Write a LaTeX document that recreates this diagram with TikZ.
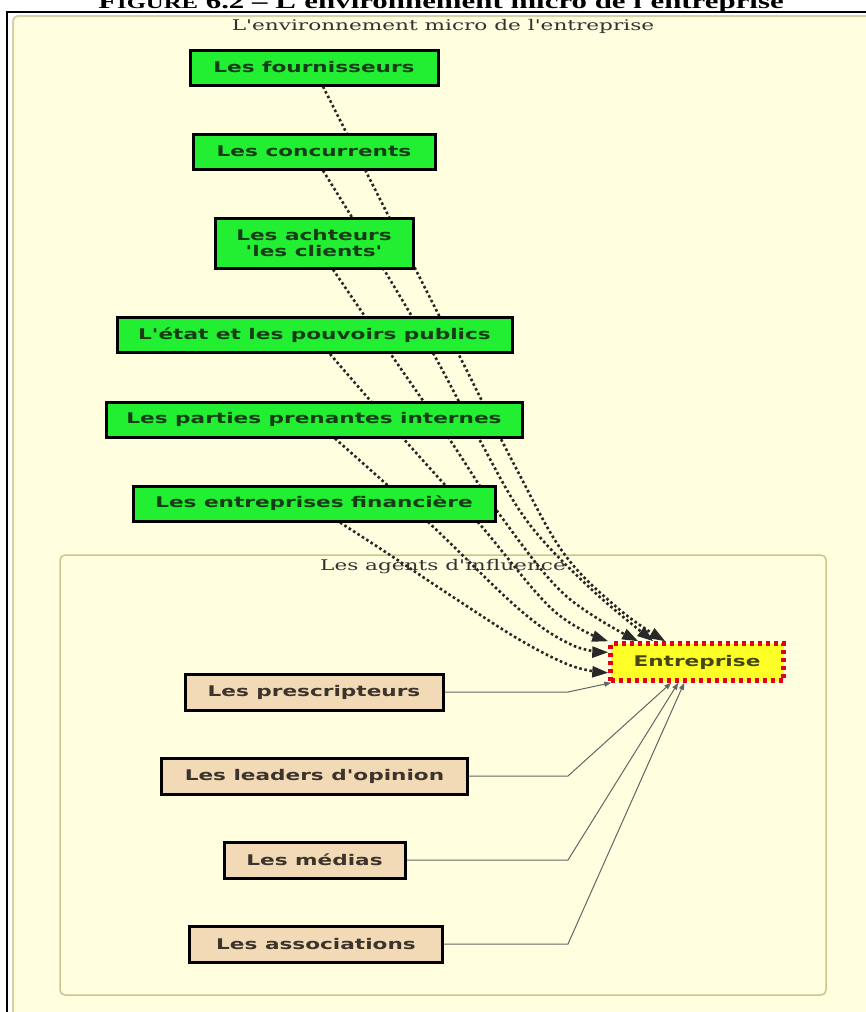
\documentclass[tikz,border=0pt]{standalone}
\usepackage{fontspec}
\usetikzlibrary{arrows.meta,calc}
\newfontfamily\boxfont{DejaVu Sans}[FakeStretch=1.47,Ligatures=TeXOff]
\newfontfamily\graphserif{DejaVu Serif}[FakeStretch=1.47,Ligatures=TeXOff]
\newfontfamily\capfont{Liberation Serif}[FakeStretch=1.47,Ligatures=TeXOff]
\definecolor{bgyellow}{RGB}{255,255,224}
\definecolor{clusterA}{RGB}{214,210,168}
\definecolor{clusterB}{RGB}{200,200,140}
\definecolor{grn}{RGB}{34,238,50}
\definecolor{grntext}{RGB}{22,60,22}
\definecolor{tanfill}{RGB}{242,218,182}
\definecolor{tantext}{RGB}{60,52,44}
\definecolor{entfill}{RGB}{255,255,40}
\definecolor{entred}{RGB}{228,0,20}
\definecolor{enttext}{RGB}{70,70,20}
\definecolor{dotc}{RGB}{40,40,40}
\definecolor{solc}{RGB}{100,100,100}
\definecolor{serifc}{RGB}{50,50,50}
\pgfdeclarelayer{bg}
\pgfdeclarelayer{edges}
\pgfsetlayers{bg,edges,main}
\tikzset{
  boxtext/.style={font=\boxfont\bfseries\fontsize{14.7}{15.5}\selectfont},
  gbox/.style={boxtext, draw=black, line width=3, fill=grn, text=grntext,
    inner sep=0pt, minimum height=35, align=center},
  tbox/.style={boxtext, draw=black, line width=3, fill=tanfill, text=tantext,
    inner sep=0pt, minimum height=36},
  entbox/.style={boxtext, draw=entred, line width=4.5, dash pattern=on 4pt off 4pt,
    fill=entfill, text=enttext, minimum width=173, minimum height=37, inner sep=0pt},
  dotedge/.style={draw=dotc, line width=2.6, dash pattern=on 2.6pt off 2.6pt,
    -{Triangle[length=16pt,width=11pt]}},
  soledge/.style={draw=solc, line width=1, -{Triangle[length=7pt,width=5pt]}},
  graphlabel/.style={text=serifc, font=\graphserif\fontsize{14.7}{17}\selectfont, inner sep=0pt, anchor=base},
}
\begin{document}
\begin{tikzpicture}[x=1pt,y=-1pt]
\useasboundingbox (0,0) rectangle (865,1012);
\clip (0,0) rectangle (865,1012);
\begin{pgfonlayer}{bg}
  \fill[white] (0,0) rectangle (865,1012);
  \node[font=\capfont\bfseries\fontsize{21}{24}\selectfont, anchor=base, inner sep=0pt] (figtitle) at (441,8)
    {F{\fontsize{16.8}{20}\selectfont IGURE} 6.2 – L'environnement micro de l'entreprise};
  \draw[line width=1.5] (7,1030) -- (7,12) -- (890,12);
  \draw[draw=clusterA, line width=2, fill=bgyellow, rounded corners=5] (13,16) rectangle (900,1040);
  \draw[draw=clusterB, line width=1.5, rounded corners=5] (60,555) rectangle (826,995);
  \node[graphlabel] (outerlabel) at (443,30) {L'environnement micro de l'entreprise};
  \node[graphlabel] (innerlabel) at (443,570) {Les agents d'influence};
\end{pgfonlayer}

\node[gbox, minimum width=248] (four) at (314,67.5) {Les fournisseurs};
\node[gbox, minimum width=242] (conc) at (314,151.5) {Les concurrents};
\node[gbox, minimum width=198, minimum height=50] (ach) at (314,243) {Les achteurs\\'les clients'};
\node[gbox, minimum width=395] (etat) at (314.5,335) {L'état et les pouvoirs publics};
\node[gbox, minimum width=416] (part) at (314,419.5) {Les parties prenantes internes};
\node[gbox, minimum width=362] (fin) at (314,503.5) {Les entreprises financière};

\node[tbox, minimum width=258] (pres) at (314,692) {Les prescripteurs};
\node[tbox, minimum width=306] (lead) at (314.5,776) {Les leaders d'opinion};
\node[tbox, minimum width=181] (med) at (314.5,860) {Les médias};
\node[tbox, minimum width=253] (asso) at (316,944) {Les associations};

\node[entbox] (ent) at (697,662) {Entreprise};
\coordinate (bend) at (568,0);

\begin{pgfonlayer}{edges}
  \draw[dotedge] plot[smooth, tension=0.6] coordinates {([xshift=9]four.south) (389,217) (458,353) (517,470) (565,555) (620,610) ([xshift=57]ent.north west)};
  \draw[dotedge] plot[smooth, tension=0.6] coordinates {([xshift=9]conc.south) (383,268) (433,353) (478,437) (527,521) (590,588) ([xshift=45]ent.north west)};
  \draw[dotedge] plot[smooth, tension=0.6] coordinates {([xshift=19]ach.south) (390,353) (448,437) (500,515) (565,595) ([xshift=30]ent.north west)};
  \draw[dotedge] plot[smooth, tension=0.6] coordinates {([xshift=15.5]etat.south) (402,437) (477,521) (553,610) (ent.north west)};
  \draw[dotedge] plot[smooth, tension=0.6] coordinates {([xshift=21]part.south) (427,521) (520,610) (572,645) ([yshift=-11]ent.north west)};
  \draw[dotedge] plot[smooth, tension=0.6] coordinates {([xshift=26]fin.south) (387,553) (453,597) (520,640) (572,666) ([yshift=10]ent.south west)};

  \draw[soledge] (pres.east) -- (pres.east -| bend) -- ([xshift=3]ent.south west);
  \draw[soledge] (lead.east) -- (lead.east -| bend) -- ([xshift=63]ent.south west);
  \draw[soledge] (med.east) -- (med.east -| bend) -- ([xshift=70]ent.south west);
  \draw[soledge] (asso.east) -- (asso.east -| bend) -- ([xshift=76]ent.south west);
\end{pgfonlayer}
\end{tikzpicture}
\end{document}
